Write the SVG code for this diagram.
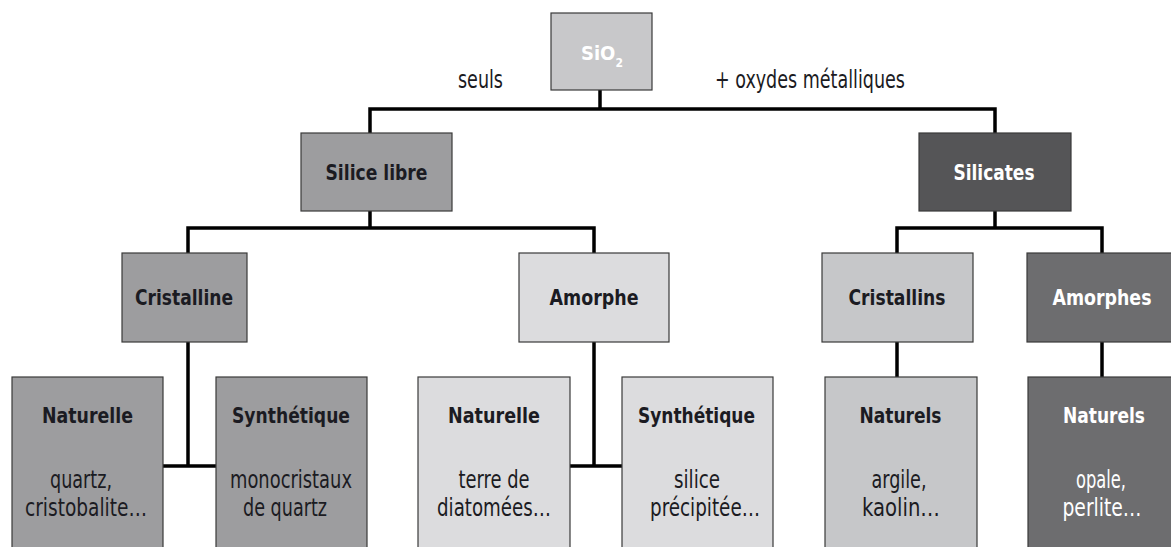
<svg xmlns="http://www.w3.org/2000/svg" width="1171" height="547" viewBox="0 0 1171 547">
  <style>
    .box { stroke: #3a3a3a; stroke-width: 1.2; }
    .c1 { fill: #c8c8ca; }
    .c2 { fill: #9d9d9f; }
    .c3 { fill: #dcdcde; }
    .c4 { fill: #c6c7c9; }
    .c5 { fill: #555557; }
    .c6 { fill: #6d6d6f; }
    text { font-family: "DejaVu Sans Condensed", "Liberation Sans", sans-serif; text-anchor: middle; fill: #1b1b22; }
    .t { font-size: 22px; font-weight: bold; }
    .r { font-size: 24px; }
    .w { fill: #ffffff; }
    .lbl { text-anchor: start; }
    .formula { font-size: 20px; }
    .sub { font-size: 12px; }
    .conn { fill: none; stroke: #000000; stroke-width: 3.5; stroke-linecap: butt; stroke-linejoin: miter; }
  </style>

  <!-- connectors -->
  <g id="connectors" class="conn">
    <path d="M600 90 V109 M370 133 V109 H995 V133"/>
    <path d="M370 211 V228 M188 253 V228 H594 V253"/>
    <path d="M995 211 V228 M897 253 V228 H1102 V253"/>
    <path d="M188 342 V466 M163 466 H216"/>
    <path d="M594 342 V466 M570 466 H622"/>
    <path d="M897 342 V377"/>
    <path d="M1102 342 V377"/>
  </g>

  <!-- branch labels -->
  <text class="r lbl" x="458" y="88" textLength="45" lengthAdjust="spacingAndGlyphs">seuls</text>
  <text class="r lbl" x="715" y="88" textLength="190" lengthAdjust="spacingAndGlyphs">+ oxydes métalliques</text>

  <g id="sio2">
    <rect class="box c1" x="551" y="13" width="101" height="77"/>
    <text class="t formula w lbl" x="581" y="60">SiO<tspan class="sub" dy="7">2</tspan></text>
  </g>

  <g id="silice-libre">
    <rect class="box c2" x="301" y="133" width="151" height="78"/>
    <text class="t" x="376.5" y="180" textLength="102" lengthAdjust="spacingAndGlyphs">Silice libre</text>
  </g>

  <g id="silicates">
    <rect class="box c5" x="919" y="133" width="152" height="78"/>
    <text class="t w" x="994" y="180" textLength="81" lengthAdjust="spacingAndGlyphs">Silicates</text>
  </g>

  <g id="cristalline">
    <rect class="box c2" x="122" y="253" width="125" height="89"/>
    <text class="t" x="184" y="305" textLength="98" lengthAdjust="spacingAndGlyphs">Cristalline</text>
  </g>

  <g id="amorphe">
    <rect class="box c3" x="519" y="253" width="150" height="89"/>
    <text class="t" x="594" y="305" textLength="89" lengthAdjust="spacingAndGlyphs">Amorphe</text>
  </g>

  <g id="cristallins">
    <rect class="box c4" x="822" y="253" width="151" height="89"/>
    <text class="t" x="897" y="305" textLength="97" lengthAdjust="spacingAndGlyphs">Cristallins</text>
  </g>

  <g id="amorphes">
    <rect class="box c6" x="1027" y="253" width="160" height="89"/>
    <text class="t w" x="1102" y="305" textLength="99" lengthAdjust="spacingAndGlyphs">Amorphes</text>
  </g>

  <g id="cristalline-naturelle">
    <rect class="box c2" x="12" y="377" width="151" height="185"/>
    <text class="t" x="87.5" y="423" textLength="91" lengthAdjust="spacingAndGlyphs">Naturelle</text>
    <text class="r" x="81" y="488" textLength="62" lengthAdjust="spacingAndGlyphs">quartz,</text>
    <text class="r" x="86" y="516" textLength="122" lengthAdjust="spacingAndGlyphs">cristobalite…</text>
  </g>

  <g id="cristalline-synthetique">
    <rect class="box c2" x="216" y="377" width="151" height="185"/>
    <text class="t" x="291" y="423" textLength="118" lengthAdjust="spacingAndGlyphs">Synthétique</text>
    <text class="r" x="291" y="488" textLength="122" lengthAdjust="spacingAndGlyphs">monocristaux</text>
    <text class="r" x="285" y="516" textLength="84" lengthAdjust="spacingAndGlyphs">de quartz</text>
  </g>

  <g id="amorphe-naturelle">
    <rect class="box c3" x="418" y="377" width="152" height="185"/>
    <text class="t" x="494" y="423" textLength="92" lengthAdjust="spacingAndGlyphs">Naturelle</text>
    <text class="r" x="494" y="488" textLength="71" lengthAdjust="spacingAndGlyphs">terre de</text>
    <text class="r" x="494" y="516" textLength="114" lengthAdjust="spacingAndGlyphs">diatomées…</text>
  </g>

  <g id="amorphe-synthetique">
    <rect class="box c3" x="622" y="377" width="151" height="185"/>
    <text class="t" x="696.5" y="423" textLength="117" lengthAdjust="spacingAndGlyphs">Synthétique</text>
    <text class="r" x="697" y="488" textLength="46" lengthAdjust="spacingAndGlyphs">silice</text>
    <text class="r" x="705" y="516" textLength="110" lengthAdjust="spacingAndGlyphs">précipitée…</text>
  </g>

  <g id="cristallins-naturels">
    <rect class="box c4" x="825" y="377" width="152" height="185"/>
    <text class="t" x="900.5" y="423" textLength="82" lengthAdjust="spacingAndGlyphs">Naturels</text>
    <text class="r" x="899" y="488" textLength="55" lengthAdjust="spacingAndGlyphs">argile,</text>
    <text class="r" x="901" y="516" textLength="78" lengthAdjust="spacingAndGlyphs">kaolin…</text>
  </g>

  <g id="amorphes-naturels">
    <rect class="box c6" x="1028" y="377" width="160" height="185"/>
    <text class="t w" x="1104" y="423" textLength="82" lengthAdjust="spacingAndGlyphs">Naturels</text>
    <text class="r w" x="1101" y="488" textLength="50" lengthAdjust="spacingAndGlyphs">opale,</text>
    <text class="r w" x="1102" y="516" textLength="79" lengthAdjust="spacingAndGlyphs">perlite…</text>
  </g>
</svg>
